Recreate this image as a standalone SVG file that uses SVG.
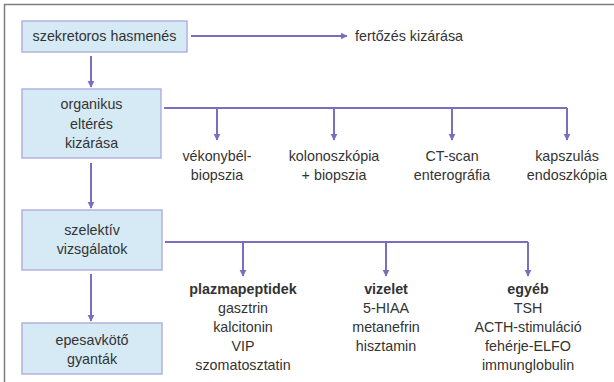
<svg xmlns="http://www.w3.org/2000/svg" width="614" height="382" viewBox="0 0 614 382">
  <style>
    .box { fill: #d6eaf6; stroke: #b4b1de; stroke-width: 1.5; }
    .t { font-family: "Liberation Sans", Arial, sans-serif; font-size: 14.3px; fill: #333333; text-anchor: middle; }
    .b { font-weight: bold; }
    .l { text-anchor: start; }
    .c { fill: none; stroke: #7a6fbf; stroke-width: 2; }
    .a { marker-end: url(#arr); }
  </style>
  <defs>
    <marker id="arr" viewBox="0 0 10 10" refX="9" refY="5" markerWidth="3.6" markerHeight="3.6" orient="auto" markerUnits="strokeWidth">
      <path d="M0,0 L10,5 L0,10 z" fill="#7a6fbf"/>
    </marker>
  </defs>
  <rect width="614" height="382" fill="#ffffff"/>
  <!-- outer frame -->
  <path d="M4.5,382 V4.5 H614" fill="none" stroke="#7d7d7d" stroke-width="1.5"/>

  <g id="connectors">
    <path class="c a" d="M91,56 V87"/>
    <path class="c a" d="M191,36 H347"/>
    <path class="c a" d="M91,163 V208"/>
    <path class="c a" d="M91,274 V321"/>
    <path class="c" d="M164,108 H567"/>
    <path class="c a" d="M217,108 V140"/>
    <path class="c a" d="M334,108 V140"/>
    <path class="c a" d="M452,108 V140"/>
    <path class="c a" d="M567,108 V140"/>
    <path class="c" d="M165,242 H528"/>
    <path class="c a" d="M243,242 V276"/>
    <path class="c a" d="M386,242 V276"/>
    <path class="c a" d="M528,242 V276"/>
  </g>

  <g id="szekretoros">
    <rect class="box" x="22" y="21" width="165" height="31"/>
    <text class="t" x="104.5" y="41">szekretoros hasmenés</text>
  </g>
  <g id="fertozes">
    <text class="t l" x="355" y="41">fertőzés kizárása</text>
  </g>
  <g id="organikus">
    <rect class="box" x="22" y="89" width="139" height="69"/>
    <text class="t" x="91.5" y="109">organikus</text>
    <text class="t" x="91.5" y="128.5">eltérés</text>
    <text class="t" x="91.5" y="148">kizárása</text>
  </g>
  <g id="vekonybel">
    <text class="t" x="217" y="161">vékonybél-</text>
    <text class="t" x="217" y="180">biopszia</text>
  </g>
  <g id="kolonoszkopia">
    <text class="t" x="334" y="161">kolonoszkópia</text>
    <text class="t" x="334" y="180">+ biopszia</text>
  </g>
  <g id="ctscan">
    <text class="t" x="452" y="161">CT-scan</text>
    <text class="t" x="452" y="180">enterográfia</text>
  </g>
  <g id="kapszulas">
    <text class="t" x="567" y="161">kapszulás</text>
    <text class="t" x="567" y="180">endoszkópia</text>
  </g>
  <g id="szelektiv">
    <rect class="box" x="22" y="210" width="140" height="60"/>
    <text class="t" x="92" y="235">szelektív</text>
    <text class="t" x="92" y="254">vizsgálatok</text>
  </g>
  <g id="epesavkoto">
    <rect class="box" x="22" y="323" width="140" height="51"/>
    <text class="t" x="92" y="345">epesavkötő</text>
    <text class="t" x="92" y="364">gyanták</text>
  </g>
  <g id="plazmapeptidek">
    <text class="t b" x="243" y="294">plazmapeptidek</text>
    <text class="t" x="243" y="313">gasztrin</text>
    <text class="t" x="243" y="332">kalcitonin</text>
    <text class="t" x="243" y="351">VIP</text>
    <text class="t" x="243" y="370">szomatosztatin</text>
  </g>
  <g id="vizelet">
    <text class="t b" x="386" y="294">vizelet</text>
    <text class="t" x="386" y="313">5-HIAA</text>
    <text class="t" x="386" y="332">metanefrin</text>
    <text class="t" x="386" y="351">hisztamin</text>
  </g>
  <g id="egyeb">
    <text class="t b" x="528" y="294">egyéb</text>
    <text class="t" x="528" y="313">TSH</text>
    <text class="t" x="528" y="332">ACTH-stimuláció</text>
    <text class="t" x="528" y="351">fehérje-ELFO</text>
    <text class="t" x="528" y="370">immunglobulin</text>
  </g>
</svg>
